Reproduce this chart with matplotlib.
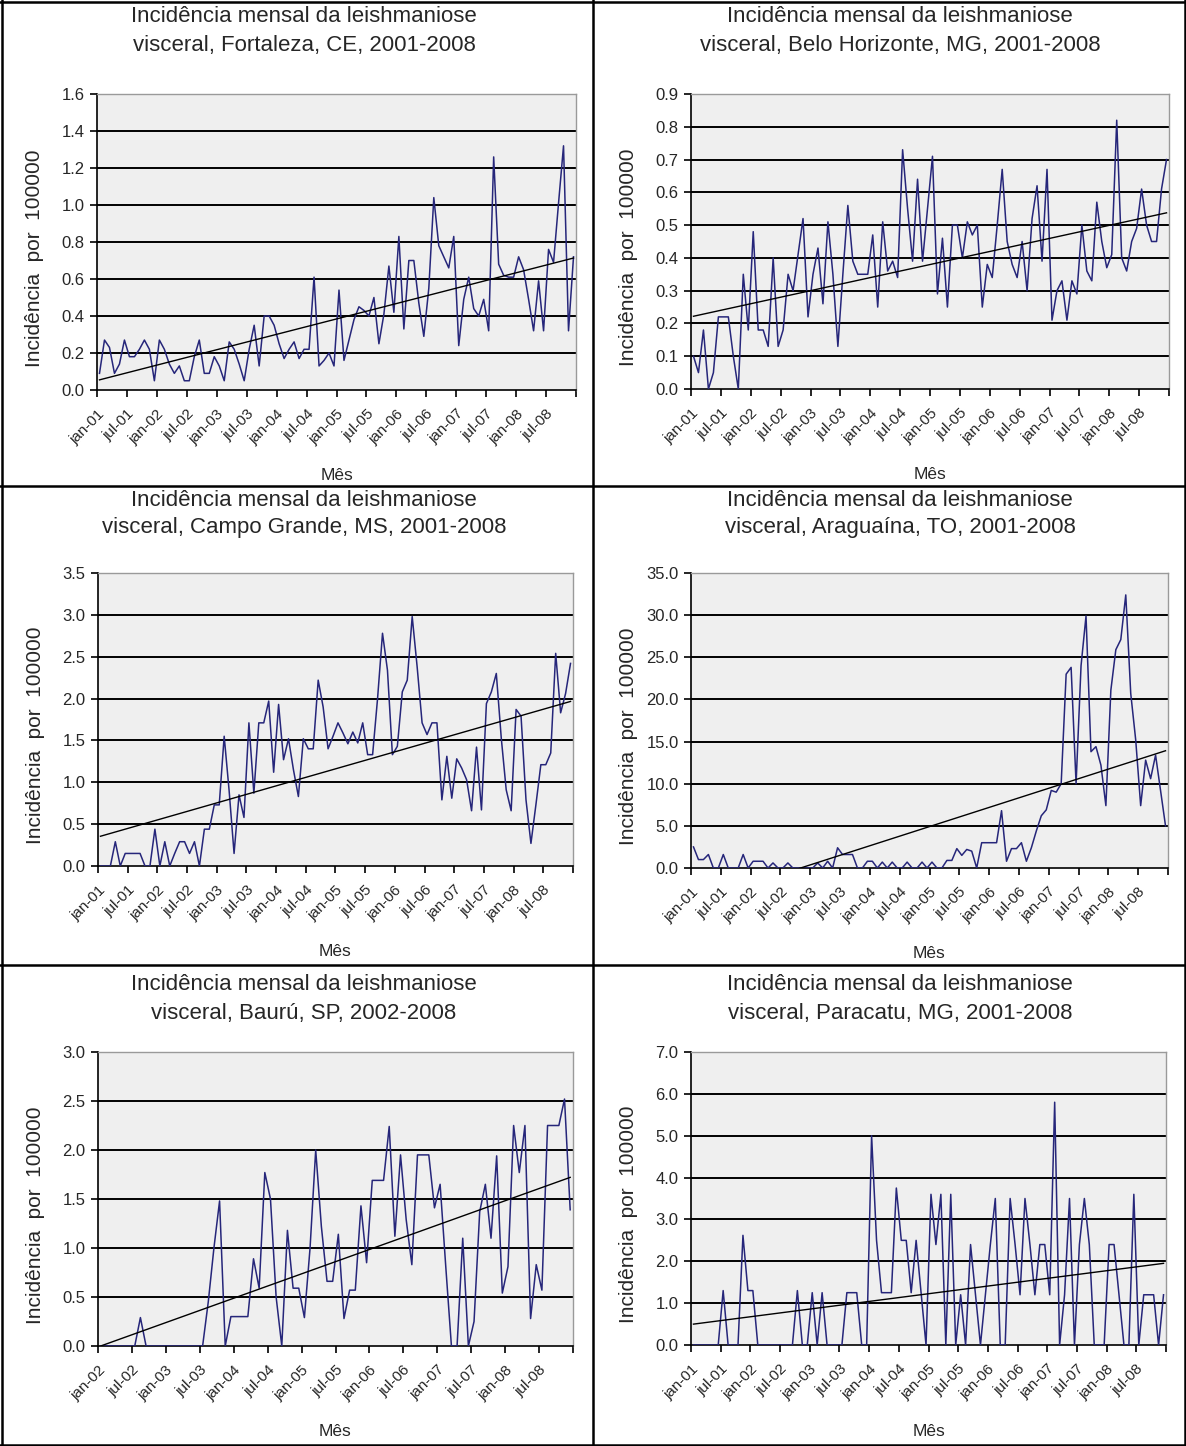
import matplotlib
matplotlib.use("Agg")
import matplotlib.pyplot as plt
import numpy as np
from matplotlib.lines import Line2D
from matplotlib.ticker import FormatStrFormatter

plt.rcParams['font.family'] = ['Liberation Sans', 'DejaVu Sans']

W, H = 1186, 1446

# ---- data (incidência mensal por 100000) -------------------------------- #
months_2001 = ["jan-01", "jul-01", "jan-02", "jul-02", "jan-03", "jul-03", "jan-04", "jul-04",
               "jan-05", "jul-05", "jan-06", "jul-06", "jan-07", "jul-07", "jan-08", "jul-08"]
months_2002 = ["jan-02", "jul-02", "jan-03", "jul-03", "jan-04", "jul-04",
               "jan-05", "jul-05", "jan-06", "jul-06", "jan-07", "jul-07", "jan-08", "jul-08"]

fortaleza = [0.09, 0.27, 0.23, 0.09, 0.14, 0.27, 0.18, 0.18, 0.22, 0.27, 0.22, 0.05,
             0.27, 0.22, 0.14, 0.09, 0.13, 0.05, 0.05, 0.18, 0.27, 0.09, 0.09, 0.18,
             0.13, 0.05, 0.26, 0.22, 0.14, 0.05, 0.22, 0.35, 0.13, 0.40, 0.40, 0.35,
             0.25, 0.17, 0.22, 0.26, 0.17, 0.22, 0.22, 0.61, 0.13, 0.16, 0.20, 0.13,
             0.54, 0.16, 0.27, 0.38, 0.45, 0.43, 0.40, 0.50, 0.25, 0.41, 0.67, 0.42,
             0.83, 0.33, 0.70, 0.70, 0.47, 0.29, 0.55, 1.04, 0.78, 0.72, 0.66, 0.83,
             0.24, 0.49, 0.61, 0.44, 0.40, 0.49, 0.32, 1.26, 0.68, 0.62, 0.61, 0.61,
             0.72, 0.65, 0.49, 0.32, 0.59, 0.32, 0.76, 0.69, 1.01, 1.32, 0.32, 0.72]

belo_horizonte = [0.10, 0.05, 0.18, 0.00, 0.05, 0.22, 0.22, 0.22, 0.10, 0.00, 0.35, 0.18,
                  0.48, 0.18, 0.18, 0.13, 0.40, 0.13, 0.18, 0.35, 0.30, 0.41, 0.52, 0.22,
                  0.35, 0.43, 0.26, 0.51, 0.35, 0.13, 0.35, 0.56, 0.39, 0.35, 0.35, 0.35,
                  0.47, 0.25, 0.51, 0.36, 0.39, 0.34, 0.73, 0.55, 0.39, 0.64, 0.39, 0.55,
                  0.71, 0.29, 0.46, 0.25, 0.50, 0.50, 0.40, 0.51, 0.47, 0.50, 0.25, 0.38,
                  0.34, 0.50, 0.67, 0.45, 0.38, 0.34, 0.45, 0.30, 0.52, 0.62, 0.39, 0.67,
                  0.21, 0.30, 0.33, 0.21, 0.33, 0.29, 0.50, 0.36, 0.33, 0.57, 0.45, 0.37,
                  0.41, 0.82, 0.40, 0.36, 0.45, 0.49, 0.61, 0.50, 0.45, 0.45, 0.61, 0.70]

campo_grande = [0.00, 0.00, 0.00, 0.29, 0.00, 0.15, 0.15, 0.15, 0.15, 0.00, 0.00, 0.44,
                0.00, 0.29, 0.00, 0.15, 0.29, 0.29, 0.15, 0.29, 0.00, 0.44, 0.44, 0.73,
                0.73, 1.55, 0.90, 0.15, 0.85, 0.58, 1.71, 0.87, 1.71, 1.71, 1.97, 1.12,
                1.93, 1.27, 1.52, 1.15, 0.83, 1.52, 1.40, 1.40, 2.22, 1.90, 1.40, 1.55,
                1.71, 1.59, 1.46, 1.60, 1.47, 1.71, 1.33, 1.33, 2.00, 2.78, 2.34, 1.33,
                1.43, 2.08, 2.22, 2.98, 2.38, 1.71, 1.57, 1.71, 1.71, 0.79, 1.31, 0.81,
                1.28, 1.17, 1.03, 0.66, 1.42, 0.67, 1.94, 2.08, 2.30, 1.53, 0.91, 0.66,
                1.87, 1.79, 0.79, 0.27, 0.73, 1.21, 1.21, 1.35, 2.54, 1.83, 2.06, 2.42]

araguaina = [2.5, 1.0, 1.0, 1.6, 0.0, 0.0, 1.6, 0.0, 0.0, 0.0, 1.6, 0.0,
             0.8, 0.8, 0.8, 0.0, 0.6, 0.0, 0.0, 0.6, 0.0, 0.0, 0.0, 0.0,
             0.0, 0.6, 0.0, 0.8, 0.0, 2.4, 1.6, 1.6, 1.6, 0.0, 0.0, 0.8,
             0.8, 0.0, 0.7, 0.0, 0.7, 0.0, 0.0, 0.7, 0.0, 0.0, 0.7, 0.0,
             0.7, 0.0, 0.0, 0.9, 0.9, 2.3, 1.5, 2.2, 2.0, 0.0, 3.0, 3.0,
             3.0, 3.0, 6.8, 0.8, 2.3, 2.3, 3.0, 0.8, 2.4, 4.4, 6.2, 6.9,
             9.2, 9.0, 10.0, 23.0, 23.8, 10.0, 24.0, 29.9, 13.8, 14.4, 12.2, 7.4,
             21.1, 25.9, 27.1, 32.4, 20.7, 15.2, 7.4, 12.8, 10.6, 13.4, 9.2, 5.0]

bauru = [0.00, 0.00, 0.00, 0.00, 0.00, 0.00, 0.00, 0.29, 0.00, 0.00, 0.00, 0.00,
         0.00, 0.00, 0.00, 0.00, 0.00, 0.00, 0.00, 0.45, 1.00, 1.48, 0.00, 0.30,
         0.30, 0.30, 0.30, 0.89, 0.59, 1.77, 1.50, 0.50, 0.00, 1.18, 0.59, 0.59,
         0.29, 1.00, 2.00, 1.22, 0.66, 0.66, 1.14, 0.28, 0.57, 0.57, 1.43, 0.85,
         1.69, 1.69, 1.69, 2.24, 1.12, 1.95, 1.29, 0.83, 1.95, 1.95, 1.95, 1.41,
         1.65, 0.81, 0.00, 0.00, 1.10, 0.00, 0.25, 1.37, 1.65, 1.10, 1.94, 0.54,
         0.81, 2.25, 1.77, 2.25, 0.28, 0.83, 0.57, 2.25, 2.25, 2.25, 2.52, 1.39]

paracatu = [0.00, 0.00, 0.00, 0.00, 0.00, 0.00, 1.30, 0.00, 0.00, 0.00, 2.62, 1.30,
            1.30, 0.00, 0.00, 0.00, 0.00, 0.00, 0.00, 0.00, 0.00, 1.30, 0.00, 0.00,
            1.25, 0.00, 1.25, 0.00, 0.00, 0.00, 0.00, 1.25, 1.25, 1.25, 0.00, 0.00,
            5.00, 2.50, 1.25, 1.25, 1.25, 3.75, 2.50, 2.50, 1.25, 2.50, 1.25, 0.00,
            3.60, 2.40, 3.60, 0.00, 3.60, 0.00, 1.20, 0.00, 2.40, 1.20, 0.00, 1.20,
            2.40, 3.50, 0.00, 0.00, 3.50, 2.40, 1.20, 3.50, 2.40, 1.20, 2.40, 2.40,
            1.20, 5.80, 0.00, 1.20, 3.50, 0.00, 2.40, 3.50, 2.40, 0.00, 0.00, 0.00,
            2.40, 2.40, 1.20, 0.00, 0.00, 3.60, 0.00, 1.20, 1.20, 1.20, 0.00, 1.20]

title_line1 = "Incidência mensal da leishmaniose"
titles = ["visceral, Fortaleza, CE, 2001-2008", "visceral, Belo Horizonte, MG, 2001-2008",
          "visceral, Campo Grande, MS, 2001-2008", "visceral, Araguaína, TO, 2001-2008",
          "visceral, Baurú, SP, 2002-2008", "visceral, Paracatu, MG, 2001-2008"]
series = [fortaleza, belo_horizonte, campo_grande, araguaina, bauru, paracatu]
tick_sets = [months_2001, months_2001, months_2001, months_2001, months_2002, months_2001]
y_max = [1.6, 0.9, 3.5, 35.0, 3.0, 7.0]
y_step = [0.2, 0.1, 0.5, 5.0, 0.5, 1.0]

# ---- layout (pixel boxes of the plot areas: x0, y0, x1, y1) -------------- #
boxes = [(97, 94, 576, 390), (691, 94, 1169, 389),
         (98, 573, 573, 866), (691, 573, 1168, 868),
         (98, 1052, 573, 1346), (691, 1052, 1166, 1345)]
title_y = [(16, 46), (16, 46), (500, 528), (500, 528), (985, 1013), (985, 1013)]
title_x = [304, 900, 304, 900, 304, 900]
LINE = "#26267a"
FACE = "#efefef"
TXT = "#262626"

fig = plt.figure(figsize=(W / 100, H / 100), dpi=100)
fig.patch.set_facecolor("white")

for k in range(6):
    data = np.array(series[k], float)
    n = len(data)
    x = np.arange(n)
    x0, y0, x1, y1 = boxes[k]
    ax = fig.add_axes([x0 / W, 1 - y1 / H, (x1 - x0) / W, (y1 - y0) / H])
    ax.set_facecolor(FACE)
    yt = np.arange(0, y_max[k] + y_step[k] / 2, y_step[k])
    for v in yt[1:-1]:
        ax.axhline(v, color="black", lw=1.4, zorder=1)
    ax.plot(x, data, color=LINE, lw=1.1, zorder=3)
    # linear trend line (least squares, as the spreadsheet trendline)
    coef = np.polyfit(x, data, 1)
    ax.plot([0, n - 1], np.polyval(coef, [0, n - 1]), color="black", lw=1.0, zorder=4)
    ax.set_xlim(-0.5, n - 0.5)
    ax.set_ylim(0, y_max[k])
    ax.set_yticks(yt)
    ax.yaxis.set_major_formatter(FormatStrFormatter("%.1f"))
    ax.set_xticks(np.arange(-0.5, n, 6))
    ax.set_xticklabels(tick_sets[k] + [""], rotation=45, ha="right", va="top",
                       rotation_mode="anchor")
    ax.tick_params(direction="out", length=5, width=1.2, color="black",
                   labelsize=12, labelcolor=TXT, pad=4)
    ax.tick_params(axis="x", labelsize=11, pad=7)
    for s in ("top", "right"):
        ax.spines[s].set_color("#9a9a9a")
        ax.spines[s].set_linewidth(1.0)
    for s in ("left", "bottom"):
        ax.spines[s].set_color("black")
        ax.spines[s].set_linewidth(1.2)

    ty1, ty2 = title_y[k]
    fig.text(title_x[k] / W, 1 - ty1 / H, title_line1, ha="center", va="center",
             fontsize=16, color=TXT)
    fig.text(title_x[k] / W, 1 - ty2 / H, titles[k], ha="center", va="center",
             fontsize=16, color=TXT)
    fig.text((x0 - 62) / W, 1 - ((y0 + y1) / 2 + 16) / H, "Incidência  por  100000",
             rotation=90, ha="center", va="center", fontsize=15, color=TXT)
    fig.text((x0 + x1) / 2 / W, 1 - (y1 + 86) / H, "Mês", ha="center", va="center",
             fontsize=12.5, color=TXT)

# panel frame lines
def hline(y, xa, xb):
    fig.add_artist(Line2D([xa / W, xb / W], [1 - y / H, 1 - y / H], color="black", lw=1.8))

def vline(xp, ya, yb):
    fig.add_artist(Line2D([xp / W, xp / W], [1 - ya / H, 1 - yb / H], color="black", lw=1.8))

hline(1.5, 0, W)
hline(486, 0, W)
hline(965, 0, W)
hline(H - 1.5, 0, W)
vline(1.5, 0, H)
vline(593, 0, H)
vline(W - 1.5, 0, H)

fig.savefig("out.png", dpi=100)
